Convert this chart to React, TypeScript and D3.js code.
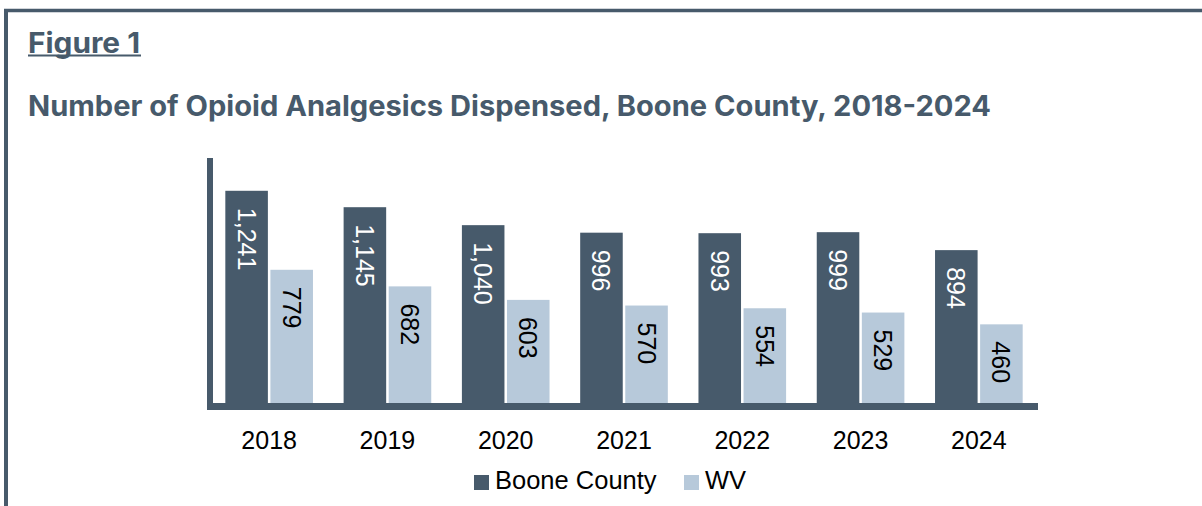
import { useEffect, useRef } from 'react';
import * as d3 from 'd3';

const years = ['2018', '2019', '2020', '2021', '2022', '2023', '2024'];
const seriesNames = ['Boone County', 'WV'];
const booneValues = [1241, 1145, 1040, 996, 993, 999, 894];
const wvValues = [779, 682, 603, 570, 554, 529, 460];

const DARK = '#475a6b';
const LIGHT = '#b7c9da';

const App = () => {
  const ref = useRef<SVGSVGElement>(null);

  useEffect(() => {
    const svg = d3.select(ref.current);
    svg.selectAll('*').remove();

    const width = 1202;
    const height = 506;
    svg.attr('width', width).attr('height', height);

    // frame (top + left edges only)
    svg.append('line')
      .attr('x1', 4).attr('x2', width).attr('y1', 10.5).attr('y2', 10.5)
      .attr('stroke', DARK).attr('stroke-width', 3.5);
    svg.append('line')
      .attr('x1', 6).attr('x2', 6).attr('y1', 9).attr('y2', height)
      .attr('stroke', DARK).attr('stroke-width', 4);

    // headings
    svg.append('text')
      .attr('x', 28).attr('y', 53)
      .attr('font-family', 'Inter, sans-serif')
      .attr('font-weight', 700)
      .attr('font-size', 28)
      .attr('fill', DARK)
      .attr('textLength', 112)
      .attr('lengthAdjust', 'spacingAndGlyphs')
      .text('Figure 1');
    svg.append('line')
      .attr('x1', 28).attr('x2', 141).attr('y1', 55.5).attr('y2', 55.5)
      .attr('stroke', DARK).attr('stroke-width', 1.8);

    svg.append('text')
      .attr('x', 28).attr('y', 116)
      .attr('font-family', 'Inter, sans-serif')
      .attr('font-weight', 700)
      .attr('font-size', 28)
      .attr('fill', DARK)
      .attr('textLength', 963)
      .attr('lengthAdjust', 'spacingAndGlyphs')
      .text('Number of Opioid Analgesics Dispensed, Boone County, 2018-2024');

    // scales
    const x0 = d3.scaleBand<string>().domain(years).range([210, 1038]).padding(0);
    const x1 = d3.scaleBand<string>()
      .domain(seriesNames)
      .range([0, x0.bandwidth()])
      .paddingInner(0.056)
      .paddingOuter(0.34);
    const y = d3.scaleLinear().domain([0, 1400]).range([403, 163.6]);

    const rows = years.map((yr, i) => ({
      year: yr,
      vals: [
        { key: seriesNames[0], value: booneValues[i] },
        { key: seriesNames[1], value: wvValues[i] },
      ],
    }));

    const groups = svg.append('g')
      .selectAll('g')
      .data(rows)
      .enter()
      .append('g')
      .attr('transform', (d) => `translate(${x0(d.year)},0)`);

    groups.selectAll('rect')
      .data((d) => d.vals)
      .enter()
      .append('rect')
      .attr('x', (d) => x1(d.key) || 0)
      .attr('y', (d) => y(d.value))
      .attr('width', x1.bandwidth())
      .attr('height', (d) => y(0) - y(d.value))
      .attr('fill', (d) => (d.key === seriesNames[0] ? DARK : LIGHT));

    const fmt = d3.format(',');
    groups.selectAll('text')
      .data((d) => d.vals)
      .enter()
      .append('text')
      .attr('transform', (d) => {
        const cx = (x1(d.key) || 0) + x1.bandwidth() / 2;
        return `translate(${cx},${y(d.value) + 17}) rotate(90)`;
      })
      .attr('dominant-baseline', 'central')
      .attr('font-family', 'Liberation Sans, Arial, sans-serif')
      .attr('font-size', 25)
      .attr('fill', (d) => (d.key === seriesNames[0] ? '#ffffff' : '#000000'))
      .text((d) => fmt(d.value));

    // axes lines
    svg.append('line')
      .attr('x1', 207).attr('x2', 1038).attr('y1', 406.5).attr('y2', 406.5)
      .attr('stroke', DARK).attr('stroke-width', 7);
    svg.append('line')
      .attr('x1', 210).attr('x2', 210).attr('y1', 158).attr('y2', 410)
      .attr('stroke', DARK).attr('stroke-width', 6);

    // x tick labels
    svg.append('g')
      .selectAll('text')
      .data(years)
      .enter()
      .append('text')
      .attr('x', (d) => (x0(d) || 0) + x0.bandwidth() / 2)
      .attr('y', 449)
      .attr('text-anchor', 'middle')
      .attr('font-family', 'Liberation Sans, Arial, sans-serif')
      .attr('font-size', 25)
      .attr('fill', '#000000')
      .text((d) => d);

    // legend
    const legendX = [474, 684];
    const legend = svg.append('g')
      .selectAll('g')
      .data(seriesNames)
      .enter()
      .append('g')
      .attr('transform', (_d, i) => `translate(${legendX[i]},475)`);
    legend.append('rect')
      .attr('width', 15).attr('height', 15)
      .attr('fill', (_d, i) => (i === 0 ? DARK : LIGHT));
    legend.append('text')
      .attr('x', 21).attr('y', 13.5)
      .attr('font-family', 'Liberation Sans, Arial, sans-serif')
      .attr('font-size', 25.5)
      .attr('fill', '#000000')
      .text((d) => d);
  }, []);

  return (
    <svg
      ref={ref}
      style={{ position: 'absolute', left: 0, top: 0, display: 'block', background: '#ffffff' }}
    />
  );
};

export default App;
